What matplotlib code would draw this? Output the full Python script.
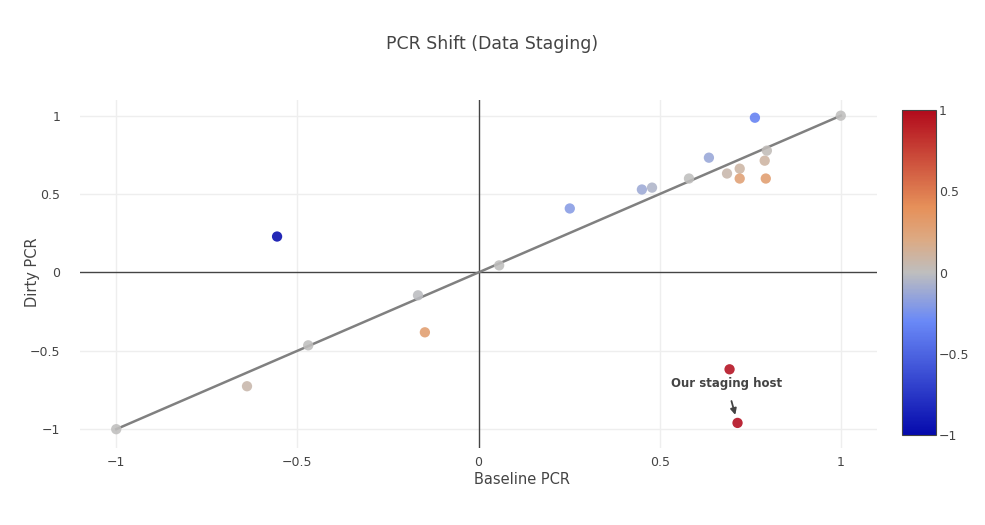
"""PCR shift scatter: baseline vs dirty PCR, coloured by shift."""

import matplotlib

matplotlib.use("Agg")
import matplotlib.pyplot as plt
from matplotlib.colors import LinearSegmentedColormap

baseline_pcr = [-1.0, -0.639, -0.470, -0.167, -0.148, -0.556, 0.057, 0.252, 0.451, 0.479, 0.581,
                0.636, 0.686, 0.721, 0.721, 0.790, 0.796, 0.793, 0.763, 1.0, 0.693, 0.715]
dirty_pcr = [-1.0, -0.726, -0.465, -0.146, -0.382, 0.229, 0.045, 0.408, 0.529, 0.541, 0.599,
             0.732, 0.631, 0.662, 0.599, 0.713, 0.777, 0.599, 0.987, 1.0, -0.618, -0.960]
shift = [0.0, 0.07, 0.0, -0.01, 0.3, -1.0, 0.0, -0.2, -0.12, -0.06, 0.0,
         -0.14, 0.07, 0.09, 0.28, 0.1, 0.02, 0.3, -0.35, 0.0, 0.98, 1.0]
diag_x = [-1, 1]
diag_y = [-1, 1]
ticks = [-1, -0.5, 0, 0.5, 1]
tick_labels = ["\u22121", "\u22120.5", "0", "0.5", "1"]
host_x, host_y = 0.715, -0.960

TEXT = "#444444"

cmap = LinearSegmentedColormap.from_list(
    "plotly_rdbu",
    [(0.0, (5 / 255, 10 / 255, 172 / 255)),
     (0.35, (106 / 255, 137 / 255, 247 / 255)),
     (0.5, (190 / 255, 190 / 255, 190 / 255)),
     (0.6, (220 / 255, 170 / 255, 132 / 255)),
     (0.7, (230 / 255, 145 / 255, 90 / 255)),
     (1.0, (178 / 255, 10 / 255, 28 / 255))],
)

plt.rcParams["font.family"] = ["DejaVu Sans"]

fig = plt.figure(figsize=(9.85, 5.25), dpi=100)
ax = fig.add_axes([80 / 985, 1 - 448 / 525, 797 / 985, 348 / 525])

ax.set_xlim(-1.1, 1.1)
ax.set_ylim(-1.12, 1.1)
for t in [-1, -0.5, 0.5, 1]:
    ax.axvline(t, color="#eeeeee", lw=1, zorder=0)
    ax.axhline(t, color="#eeeeee", lw=1, zorder=0)
ax.axvline(0, color=TEXT, lw=1, zorder=1)
ax.axhline(0, color=TEXT, lw=1, zorder=1)

ax.plot(diag_x, diag_y, color="#808080", lw=1.8, zorder=2)
sc = ax.scatter(baseline_pcr, dirty_pcr, c=shift, cmap=cmap, vmin=-1, vmax=1,
                s=55, linewidths=0, alpha=0.88, zorder=3)

ax.annotate("Our staging host", xy=(host_x, host_y), xytext=(0.685, -0.71),
            ha="center", va="center", fontsize=8.5, fontweight="bold", color=TEXT,
            arrowprops=dict(arrowstyle="-|>", color=TEXT, lw=1.3,
                            shrinkA=6, shrinkB=6, mutation_scale=9))

for s in ax.spines.values():
    s.set_visible(False)
ax.set_xticks(ticks)
ax.set_xticklabels(tick_labels)
ax.set_yticks(ticks)
ax.set_yticklabels(tick_labels)
ax.tick_params(length=0, labelsize=9, colors=TEXT)
ax.tick_params(axis="x", pad=6)
ax.tick_params(axis="y", pad=14)

fig.text(522 / 985, 1 - 480 / 525, "Baseline PCR", ha="center", va="center",
         fontsize=10.5, color=TEXT)
fig.text(32 / 985, 1 - 272 / 525, "Dirty PCR", ha="center", va="center",
         rotation=90, fontsize=10.5, color=TEXT)
fig.text(492 / 985, 1 - 44 / 525, "PCR Shift (Data Staging)", ha="center", va="center",
         fontsize=12.5, color=TEXT)

cax = fig.add_axes([902 / 985, 1 - 435 / 525, 34 / 985, 325 / 525])
cb = fig.colorbar(sc, cax=cax, ticks=ticks)
cb.solids.set_alpha(1)
cb.ax.set_yticklabels(tick_labels)
cb.ax.tick_params(length=0, labelsize=9, colors=TEXT, pad=2)
cb.outline.set_edgecolor(TEXT)
cb.outline.set_linewidth(0.8)

fig.savefig("out.png", dpi=100)
